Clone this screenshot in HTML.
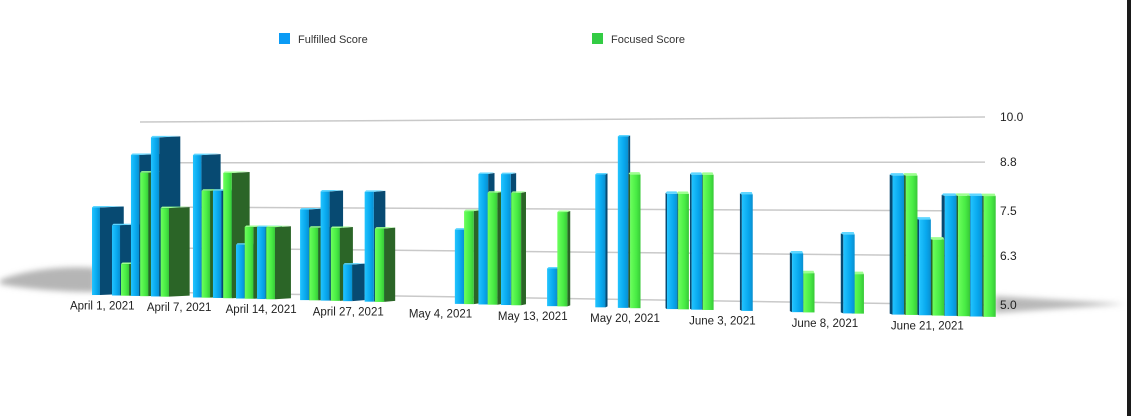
<!DOCTYPE html>
<html><head><meta charset="utf-8">
<style>
html,body{margin:0;padding:0;background:#fff;}
svg{display:block;font-family:"Liberation Sans",sans-serif;}
</style></head>
<body>
<svg id="chart" width="1131" height="416" viewBox="0 0 1131 416" xmlns="http://www.w3.org/2000/svg">
<defs>
<filter id="blur" x="-20%" y="-100%" width="140%" height="300%"><feGaussianBlur stdDeviation="3"/></filter>
<linearGradient id="gBlue" x1="0" x2="1"><stop offset="0" stop-color="#22c4ff"/><stop offset="0.6" stop-color="#08a8ee"/><stop offset="1" stop-color="#0a8fd0"/></linearGradient>
<linearGradient id="gGreen" x1="0" x2="1"><stop offset="0" stop-color="#6cff5c"/><stop offset="0.6" stop-color="#48ec44"/><stop offset="1" stop-color="#38c838"/></linearGradient>
</defs>
<rect x="0" y="0" width="1131" height="416" fill="#fff"/>
<rect x="1127" y="0" width="4" height="416" fill="#1a1a1a"/>
<path d="M0,280 C30,268 70,266 95,268 L95,292 C70,292 30,290 0,284 Z" fill="#b5b5b5" filter="url(#blur)"/>
<path d="M995,296 L1125,304 L995,313 Z" fill="#b8b8b8" filter="url(#blur)"/>
<g id="grid"></g>
<g id="bars"></g>
<g id="labels"></g>
<g>
<rect x="279" y="33" width="11" height="11" fill="#0a9bf5"/>
<text x="298" y="43" font-size="11" fill="#333">Fulfilled Score</text>
<rect x="592" y="33" width="11" height="11" fill="#33cc44"/>
<text x="611" y="43" font-size="11" fill="#333">Focused Score</text>
</g>
</svg>
<script>
// ---- data ----
const tickValues = [10.0, 8.8, 7.5, 6.3, 5.0];
const tickLabels = ["10.0", "8.8", "7.5", "6.3", "5.0"];
const dateLabels = ["April 1, 2021","April 7, 2021","April 14, 2021","April 27, 2021","May 4, 2021","May 13, 2021","May 20, 2021","June 3, 2021","June 8, 2021","June 21, 2021"];
const dateSlots = [1, 8.5, 16.5, 25, 34, 43, 52, 61.5, 71.5, 81.5];
// bar category slot positions, series (0 = Fulfilled, 1 = Focused), values
const barSlots = [0,1.95,2.83,3.8,4.7,5.75,6.7,9.85,10.7,11.8,12.8,14.05,14.9,16.1,17,20.3,21.2,22.3,23.3,24.5,26.6,27.6,35.4,36.3,37.7,38.6,39.9,40.9,44.4,45.4,49.1,51.3,52.5,56.1,57.2,58.5,59.6,63.4,68.3,69.4,73.3,74.2,78.1,79.4,80.7,82,83.2,84.5,85.7,87];
const barSeries = [0,0,1,0,1,0,1,0,1,0,1,0,1,0,1,0,1,0,1,0,0,1,0,1,0,1,0,1,0,1,0,0,1,0,1,0,1,0,0,1,0,1,0,1,0,1,0,1,0,1];
const barValues = [7.5,7.0,5.9,9.0,8.5,9.5,7.5,9.0,8.0,8.0,8.5,6.5,7.0,7.0,7.0,7.5,7.0,8.0,7.0,6.0,8.0,7.0,7.0,7.5,8.5,8.0,8.5,8.0,6.0,7.5,8.5,9.5,8.5,8.0,8.0,8.5,8.5,8.0,6.5,6.0,7.0,6.0,8.5,8.5,7.4,6.9,8.0,8.0,8.0,8.0];

// ---- scales ----
const NS = "http://www.w3.org/2000/svg";
function xPos(slot){ return 92 + slot*10.25; }
function baseY(x){ return 295 + (x-92)*(22/898); }
function unit(x){ return 35 + (x-92)*(5.3/900); }
function barTop(x, v){ return baseY(x) - (v-5)*unit(x); }
function gridY(v, x){
  const l = 292 - (v-5)*34, r = 305 - (v-5)*37.6;
  return l + (r-l)*(x-140)/(985-140);
}
function mk(tag, attrs, parent){ const e=document.createElementNS(NS,tag); for(const k in attrs) e.setAttribute(k,attrs[k]); parent.appendChild(e); return e; }

const grid = document.getElementById('grid');
tickValues.forEach((v,i)=>{
  const ln = mk('line',{x1:140,y1:gridY(v,140),x2:985,y2:gridY(v,985),stroke:'#c9c9c9','stroke-width':1.5},grid);
  
  
  const t = mk('text',{x:1000,y:gridY(v,985)+4,'font-size':12,fill:'#222'},grid);
  t.textContent = tickLabels[i];
  
  
});

const labels = document.getElementById('labels');
dateLabels.forEach((d,i)=>{
  const x = xPos(dateSlots[i]);
  const t = mk('text',{x:x,y:baseY(x)+14,'font-size':11.5,fill:'#222','text-anchor':'middle'},labels);
  t.textContent = d;
  
  
});

const barsG = document.getElementById('bars');
const colors = [{front:'url(#gBlue)',side:'#074a72',top:'#5fd6ff'},{front:'url(#gGreen)',side:'#2b6527',top:'#9dff90'}];
function drawBar(i){
  const x = xPos(barSlots[i]);
  const W = 8 + (x-92)*4/900;
  const v = barValues[i];
  const c = colors[barSeries[i]];
  const b = baseY(x), t = barTop(x, v);
  const g = mk('g',{},barsG);
  
  
  if (x < 620){
    const s = Math.max(2,(620-x)*0.045);
    mk('path',{d:`M${x+W},${t} L${x+W+s},${t-1} L${x+W+s},${b-1} L${x+W},${b} Z`,fill:c.side},g);
    mk('path',{d:`M${x},${t} L${x+1.5},${t-1.5} L${x+W+s},${t-1.5} L${x+W},${t} Z`,fill:c.top},g);
  } else {
    const s = Math.max(1.5,(x-620)*0.006+1.2);
    mk('path',{d:`M${x},${t} L${x-s},${t-1} L${x-s},${b-1} L${x},${b} Z`,fill:c.side},g);
    mk('path',{d:`M${x-s},${t-1} L${x-s+1.5},${t-2.5} L${x+W-1},${t-2.5} L${x+W},${t} L${x},${t} Z`,fill:c.top},g);
  }
  mk('rect',{x:x,y:t,width:W,height:b-t,fill:c.front},g);
}
const order = barSlots.map((s,i)=>i);
const leftIdx = order.filter(i=>xPos(barSlots[i])<620);
const rightIdx = order.filter(i=>xPos(barSlots[i])>=620).reverse();
leftIdx.forEach(drawBar);
rightIdx.forEach(drawBar);
</script>
</body></html>
